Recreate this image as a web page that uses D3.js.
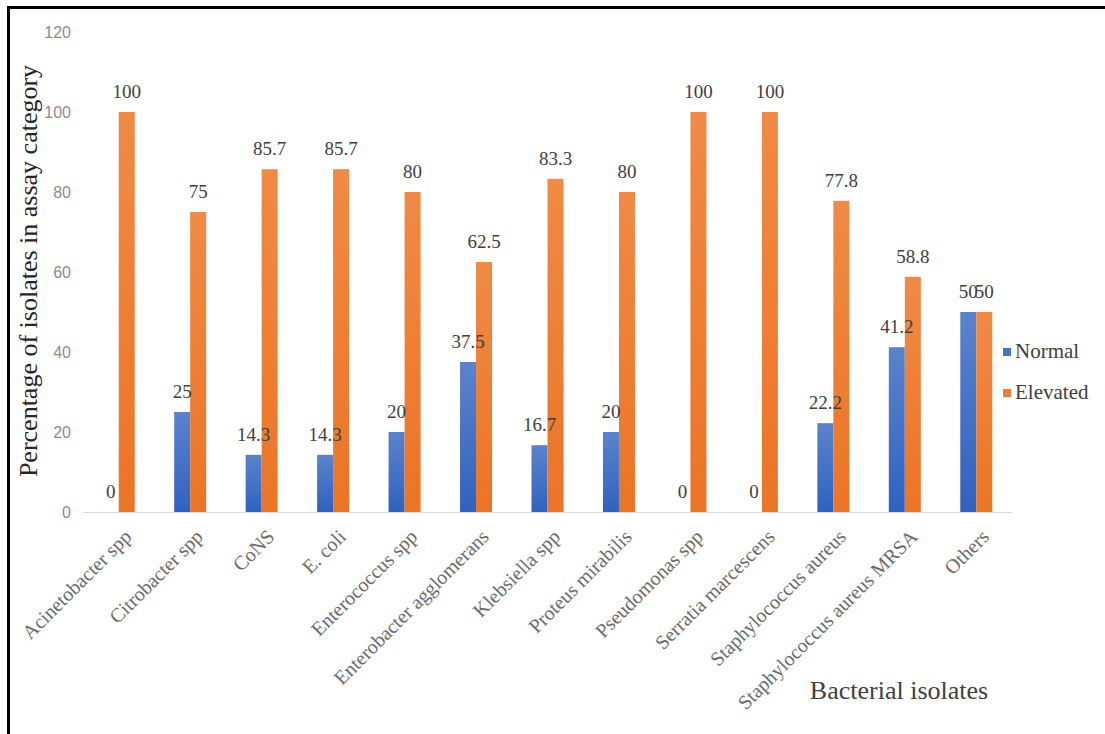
<!DOCTYPE html>
<meta charset="utf-8">
<style>
body { margin: 0; background: #fff; }
svg { display: block; }
</style>
<body>
<script src="https://cdn.jsdelivr.net/npm/d3@7"></script>
<script>

var categories = ["Acinetobacter spp", "Citrobacter spp", "CoNS", "E. coli", "Enterococcus spp",
  "Enterobacter agglomerans", "Klebsiella spp", "Proteus mirabilis", "Pseudomonas spp",
  "Serratia marcescens", "Staphylococcus aureus", "Staphylococcus aureus MRSA", "Others"];
var normal = [0, 25, 14.3, 14.3, 20, 37.5, 16.7, 20, 0, 0, 22.2, 41.2, 50];
var elevated = [100, 75, 85.7, 85.7, 80, 62.5, 83.3, 80, 100, 100, 77.8, 58.8, 50];
var seriesNames = ["Normal", "Elevated"];
var yTicks = [0, 20, 40, 60, 80, 100, 120];

var width = 1105, height = 734;
var colors = { Normal: "#4472c4", Elevated: "#ed7d31" };
var SERIF = "'Liberation Serif', 'Times New Roman', serif";
var SANS = "'Liberation Sans', Arial, sans-serif";

var svg = d3.select("body").append("svg")
    .attr("width", width)
    .attr("height", height);

// gradients, bars look slightly lighter at the top
var defs = svg.append("defs");
function grad(id, top, bottom) {
  var g = defs.append("linearGradient").attr("id", id)
      .attr("x1", 0).attr("y1", 0).attr("x2", 0).attr("y2", 1);
  g.append("stop").attr("offset", "0%").attr("stop-color", top);
  g.append("stop").attr("offset", "100%").attr("stop-color", bottom);
}
grad("g-normal", "#5b83cc", "#2f62c0");
grad("g-elevated", "#f08a45", "#ec7425");

// frame (top and left only)
svg.append("line").attr("x1", 7).attr("y1", 7.5).attr("x2", width).attr("y2", 7.5)
    .attr("stroke", "#000").attr("stroke-width", 3);
svg.append("line").attr("x1", 8.5).attr("y1", 6).attr("x2", 8.5).attr("y2", height)
    .attr("stroke", "#000").attr("stroke-width", 3);

var x = d3.scaleBand().domain(categories).range([83, 1012]);
var y = d3.scaleLinear().domain([0, 120]).range([512, 32]);
var barW = 16;

// y tick labels
svg.selectAll(".tick-y")
    .data(yTicks)
  .enter().append("text")
    .attr("class", "tick-y")
    .attr("x", 71)
    .attr("y", function(d) { return y(d); })
    .attr("dy", "0.35em")
    .attr("text-anchor", "end")
    .style("font-family", SANS)
    .style("font-size", "16px")
    .style("fill", "#8c8c8c")
    .text(function(d) { return d; });

// baseline
svg.append("line")
    .attr("x1", x.range()[0]).attr("x2", x.range()[1])
    .attr("y1", y(0) + 0.5).attr("y2", y(0) + 0.5)
    .attr("stroke", "#d9d9d9").attr("stroke-width", 1);

var rows = [];
categories.forEach(function(c, i) {
  rows.push({ cat: c, s: "Normal", v: normal[i], off: -barW });
  rows.push({ cat: c, s: "Elevated", v: elevated[i], off: 0 });
});

function cx(d) { return x(d.cat) + x.bandwidth() / 2 + d.off; }

svg.selectAll(".bar")
    .data(rows)
  .enter().append("rect")
    .attr("class", "bar")
    .attr("x", cx)
    .attr("width", barW)
    .attr("y", function(d) { return y(d.v); })
    .attr("height", function(d) { return y(0) - y(d.v); })
    .attr("fill", function(d) { return d.s == "Normal" ? "url(#g-normal)" : "url(#g-elevated)"; });

svg.selectAll(".val")
    .data(rows)
  .enter().append("text")
    .attr("class", "val")
    .attr("x", function(d) { return cx(d) + barW / 2; })
    .attr("y", function(d) { return y(d.v) - 14; })
    .attr("text-anchor", "middle")
    .style("font-family", SERIF)
    .style("font-size", "19px")
    .style("fill", "#404040")
    .text(function(d) { return d.v; });

// category labels
svg.selectAll(".cat")
    .data(categories)
  .enter().append("text")
    .attr("class", "cat")
    .attr("transform", function(d) {
      return "translate(" + (x(d) + x.bandwidth() / 2 + 14) + ",538) rotate(-45)";
    })
    .attr("text-anchor", "end")
    .style("font-family", SERIF)
    .style("font-size", "20px")
    .style("fill", "#6b6b6b")
    .text(function(d) { return d; });

// axis titles
svg.append("text")
    .attr("transform", "translate(37,271) rotate(-90)")
    .attr("text-anchor", "middle")
    .style("font-family", SERIF)
    .style("font-size", "26px")
    .style("fill", "#262626")
    .text("Percentage of isolates in assay category");

svg.append("text")
    .attr("x", 899)
    .attr("y", 699)
    .attr("text-anchor", "middle")
    .style("font-family", SERIF)
    .style("font-size", "26px")
    .style("fill", "#404040")
    .text("Bacterial isolates");

// legend
var legend = svg.selectAll(".legend")
    .data(seriesNames)
  .enter().append("g")
    .attr("class", "legend")
    .attr("transform", function(d, i) { return "translate(1003," + (348 + i * 41) + ")"; });

legend.append("rect")
    .attr("width", 8).attr("height", 8)
    .attr("fill", function(d) { return colors[d]; });

legend.append("text")
    .attr("x", 12)
    .attr("y", 10)
    .style("font-family", SERIF)
    .style("font-size", "21px")
    .style("fill", "#404040")
    .text(function(d) { return d; });

</script>
